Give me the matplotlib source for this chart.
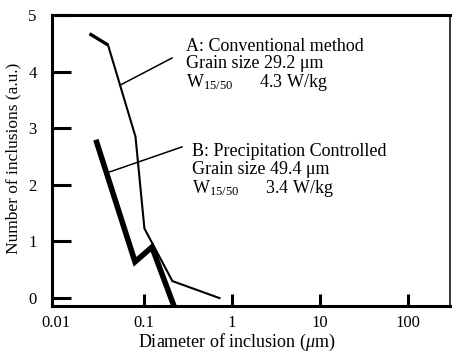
import matplotlib
matplotlib.use("Agg")
import matplotlib.pyplot as plt
from matplotlib.transforms import blended_transform_factory

plt.rcParams['font.family'] = ['Liberation Serif', 'DejaVu Serif']
plt.rcParams['mathtext.fontset'] = 'custom'
plt.rcParams['mathtext.rm'] = 'Liberation Serif'
plt.rcParams['mathtext.it'] = 'Liberation Serif:italic'

# Data
a_x = [0.024, 0.039, 0.080, 0.101, 0.21, 0.72]
a_y = [4.67, 4.47, 2.85, 1.23, 0.30, 0.0]
b_x = [0.029, 0.079, 0.123, 0.22]
b_y = [2.75, 0.64, 0.90, -0.15]
x_ticks = [0.1, 1, 10, 100]
x_labels = ['0.01', '0.1', '1', '10', '100']
x_label_pos = [0.01, 0.1, 1, 10, 100]
y_ticks = [0, 1, 2, 3, 4, 5]
label_a = ['A: Conventional method', 'Grain size 29.2 μm',
           r'W$_{\mathrm{15/50}}$      4.3 W/kg']
label_b = ['B: Precipitation Controlled', 'Grain size 49.4 μm',
           r'W$_{\mathrm{15/50}}$      3.4 W/kg']

fig = plt.figure(figsize=(4.54, 3.54), dpi=100)
W, H = 454, 354
ax = fig.add_axes([52 / W, (H - 306) / H, (450 - 52) / W, (306 - 15) / H])
ax.set_xscale('log')
ax.set_xlim(0.009, 300)
ax.set_ylim(-0.14, 5)

# series A (thin) with slightly thicker start
ax.plot(a_x[:2], a_y[:2], color='black', lw=2.4, solid_capstyle='butt')
ax.plot(a_x[1:], a_y[1:], color='black', lw=1.5, solid_joinstyle='miter')
# series B (thick)
ax.plot(b_x, b_y, color='black', lw=4.0, solid_joinstyle='miter')

# leader lines
ax.plot([0.0533, 0.208], [3.76, 4.24], color='black', lw=1.1)
ax.plot([0.041, 0.27], [2.23, 2.67], color='black', lw=1.1)

fs = 13
ax.text(0.30, 3.73, '\n'.join(label_a), fontsize=fs, ha='left', va='baseline',
        linespacing=0.98, multialignment='left')
ax.text(0.35, 1.855, '\n'.join(label_b), fontsize=fs, ha='left', va='baseline',
        linespacing=1.02, multialignment='left')

# axes styling
for s in ['left', 'bottom', 'top']:
    ax.spines[s].set_linewidth(2.2)
ax.spines['right'].set_linewidth(1.1)

ax.set_yticks(y_ticks)
ax.set_yticklabels([str(v) for v in y_ticks], fontsize=12)
ax.tick_params(axis='y', direction='in', length=14, width=2.2, pad=11)

ax.set_xticks(x_ticks)
ax.set_xticklabels([])
ax.tick_params(axis='x', direction='in', length=8.5, width=2.2)
ax.xaxis.set_minor_locator(matplotlib.ticker.NullLocator())
btrans = blended_transform_factory(ax.transData, fig.transFigure)
for xv, lab in zip(x_label_pos, x_labels):
    ax.text(xv, 1 - 327 / H, lab, transform=btrans,
            fontsize=12, ha='center', va='baseline')

fig.text(237 / W, 1 - 347 / H, r'Diameter of inclusion ($\mu$m)',
         fontsize=13, ha='center', va='baseline')
fig.text(13 / W, 1 - 158 / H, 'Number of inclusions (a.u.)',
         fontsize=12.5, ha='center', va='center', rotation=90)

fig.savefig('out.png', dpi=100)
